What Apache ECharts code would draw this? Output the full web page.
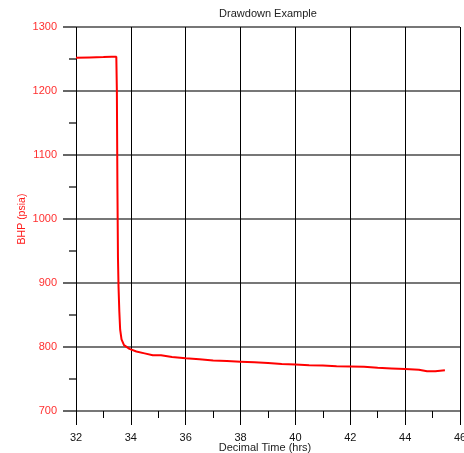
<!DOCTYPE html>
<html>
<head>
<meta charset="utf-8">
<script src="https://cdn.jsdelivr.net/npm/echarts@6/dist/echarts.min.js"></script>
<style>html,body{margin:0;padding:0;background:#fff;overflow:hidden;}#c{width:464px;height:453px;}</style>
</head>
<body>
<div id="c"></div>
<script>
const timeHrs = [32.0, 32.5, 33.0, 33.3, 33.47, 33.49, 33.51, 33.53, 33.55, 33.58, 33.61, 33.66, 33.75, 33.95, 34.2, 34.5, 34.8, 35.1, 35.5, 36.0, 36.5, 37.0, 37.5, 38.0, 38.5, 39.0, 39.5, 40.0, 40.5, 41.0, 41.5, 42.0, 42.5, 43.0, 43.5, 44.0, 44.5, 44.8, 45.1, 45.45];
const bhp = [1252, 1252.5, 1253, 1253.5, 1253.5, 1200, 1050, 940, 895, 855, 827, 812, 803, 797, 793, 790, 787, 787, 784.5, 782.5, 781, 779, 778, 777, 776, 775, 773.5, 772.5, 771.5, 771, 770, 769.5, 769, 767.5, 766.5, 765.5, 764.5, 762, 762, 763.5];
const titleText = "Drawdown Example";
const xName = "Decimal Time (hrs)";
const yName = "BHP (psia)";

const chart = echarts.init(document.getElementById('c'));
chart.setOption({
  animation: false,
  backgroundColor: '#fff',
  textStyle: { fontFamily: 'Liberation Sans' },
  title: {
    text: titleText, left: 263, top: 3, textAlign: 'center',
    textStyle: { fontSize: 11, fontWeight: 'normal', color: '#222', fontFamily: 'Liberation Sans' }
  },
  grid: { left: 76, top: 27, width: 384, height: 384, outerBoundsMode: 'none', containLabel: false },
  xAxis: {
    type: 'value', min: 32, max: 46, interval: 2,
    name: xName, nameLocation: 'middle', nameGap: 31, nameMoveOverlap: false,
    nameTextStyle: { fontSize: 11, color: '#222', padding: [0, 6, 0, 0] },
    axisLine: { show: false },
    axisTick: { show: true, length: 14, lineStyle: { color: '#000', width: 1 } },
    minorTick: { show: true, splitNumber: 2, length: 7, lineStyle: { color: '#000', width: 1 } },
    axisLabel: { fontSize: 11, color: '#111', margin: 21, showMaxLabel: true, hideOverlap: false },
    splitLine: { show: true, lineStyle: { color: '#000', width: 1 } }
  },
  yAxis: {
    type: 'value', min: 700, max: 1300, interval: 100,
    name: yName, nameLocation: 'middle', nameGap: 48, nameRotate: 90, nameMoveOverlap: false,
    nameTextStyle: { fontSize: 10.5, color: '#ff1a1a' },
    axisLine: { show: false },
    axisTick: { show: true, length: 13, lineStyle: { color: '#666', width: 2 } },
    minorTick: { show: true, splitNumber: 2, length: 7, lineStyle: { color: '#666', width: 2 } },
    axisLabel: { fontSize: 11, color: '#ff3030', margin: 19, formatter: v => String(v) },
    splitLine: { show: true, lineStyle: { color: '#777', width: 2 } }
  },
  series: [{
    type: 'line', data: timeHrs.map((t, i) => [t, bhp[i]]),
    showSymbol: false, smooth: false,
    lineStyle: { color: '#ff0000', width: 2 },
    z: 5
  }]
});
</script>
</body>
</html>
